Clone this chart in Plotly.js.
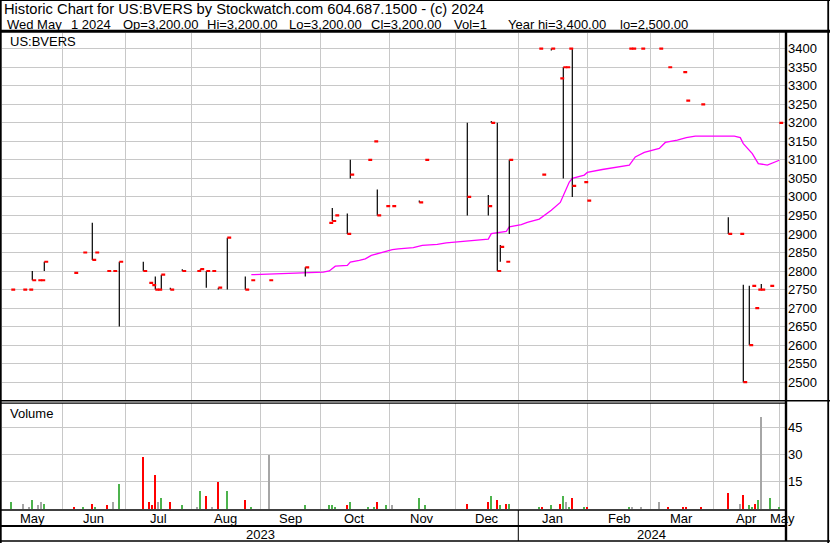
<!DOCTYPE html>
<html><head><meta charset="utf-8">
<script src="https://cdn.plot.ly/plotly-3.0.1.min.js"></script>
<style>html,body{margin:0;padding:0;background:#fff;overflow:hidden}</style>
</head><body><div id="chart" style="width:830px;height:543px"></div>
<script>
// ---------------- data ----------------
const dates = ['2023-05-09','2023-05-15','2023-05-17','2023-05-18','2023-05-22','2023-05-23','2023-05-24','2023-06-07','2023-06-12','2023-06-15',
'2023-06-16','2023-06-22','2023-06-26','2023-06-28','2023-07-10','2023-07-12','2023-07-13','2023-07-14','2023-07-17','2023-07-18',
'2023-07-21','2023-07-27','2023-08-03','2023-08-04','2023-08-08','2023-08-10','2023-08-14','2023-08-17','2023-08-25','2023-08-29',
'2023-09-06','2023-09-22','2023-10-04','2023-10-05','2023-10-06','2023-10-12','2023-10-13','2023-10-23','2023-10-25','2023-10-26',
'2023-10-31','2023-11-02','2023-11-15','2023-11-17','2023-12-07','2023-12-18','2023-12-19','2023-12-21','2023-12-22','2023-12-26',
'2023-12-27','2024-01-10','2024-01-11','2024-01-16','2024-01-19','2024-01-22','2024-01-23','2024-01-24','2024-01-25','2024-01-31',
'2024-02-01','2024-02-21','2024-02-22','2024-02-27','2024-03-06','2024-03-11','2024-03-18','2024-03-19','2024-03-26','2024-04-08',
'2024-04-12','2024-04-15','2024-04-17','2024-04-18','2024-04-19','2024-04-22','2024-04-23','2024-04-26','2024-05-01'];
const high = [2750,2750,2750,2800,2775,2775,2825,2795,2850,2930,
2850,2800,2800,2825,2825,2768,2762,2785,2750,2790,
2755,2805,2800,2805,2800,2800,2755,2890,2785,2775,
2775,2810,2930,2970,2950,2955,3100,3100,3150,3020,
2975,2975,2990,3100,3200,3005,3205,3200,2870,2825,
3100,3400,3060,3400,3320,3350,3350,3400,3400,3040,
2990,3400,3400,3400,3400,3350,3337,3260,3250,2945,
2900,2763,2760,2760,2700,2750,2765,2760,3200];
const low = [2750,2750,2750,2775,2775,2775,2800,2795,2850,2830,
2850,2800,2800,2650,2800,2768,2762,2750,2750,2750,
2750,2800,2800,2800,2755,2800,2750,2750,2750,2775,
2775,2785,2930,2935,2950,2900,3050,3100,3150,2950,
2975,2975,2985,3100,2950,2950,3200,2800,2825,2825,
2900,3400,3060,3395,3320,3050,3350,3400,3000,3040,
2990,3400,3400,3400,3400,3350,3337,3260,3250,2900,
2900,2500,2600,2760,2700,2750,2750,2760,3200];
const close = [2750,2750,2750,2775,2775,2775,2825,2795,2850,2830,
2850,2800,2800,2825,2800,2768,2762,2750,2750,2790,
2750,2800,2800,2805,2800,2800,2755,2890,2750,2775,
2775,2810,2930,2935,2950,2900,3060,3100,3150,2950,
2975,2975,2985,3100,3000,2975,3200,2800,2865,2825,
3100,3400,3060,3400,3320,3350,3350,3400,3030,3040,
2990,3400,3400,3400,3400,3350,3337,3260,3250,2900,
2900,2500,2600,2760,2700,2750,2750,2760,3200];
const volume = [4,3,1,5,2,4,3,1,1,3,
1,2,4,14,29,4,2,19,4,6,
4,2,1,10,7,1,15,10,5,1,
30,2,2,2,1,2,4,1,1,4,
2,2,6,2,3,4,7,5,2,3,
3,1,1,2,3,7,4,1,6,1,
1,1,1,1,4,1,1,1,1,9,
3,8,2,1,3,5,51,6,1];
const maDates = ['2023-08-29','2023-09-14','2023-09-26','2023-10-02','2023-10-04','2023-10-06','2023-10-12','2023-10-13','2023-10-18','2023-10-20',
'2023-10-24','2023-10-26','2023-10-31','2023-11-02','2023-11-06','2023-11-13','2023-11-16','2023-11-23','2023-11-28','2023-12-05',
'2023-12-11','2023-12-18','2023-12-19','2023-12-21','2023-12-26','2023-12-27','2024-01-02','2024-01-04','2024-01-10','2024-01-16',
'2024-01-19','2024-01-24','2024-01-25','2024-01-31','2024-02-01','2024-02-08','2024-02-16','2024-02-21','2024-02-23','2024-02-28',
'2024-03-06','2024-03-08','2024-03-14','2024-03-19','2024-03-22','2024-04-10','2024-04-12','2024-04-15','2024-04-18','2024-04-22',
'2024-04-25','2024-04-29','2024-05-01'];
const maValues = [2790,2793,2796,2797,2800,2813,2815,2824,2829,2833,
2842,2847,2854,2858,2860,2863,2869,2872,2876,2879,
2883,2886,2901,2904,2907,2919,2925,2931,2940,2964,
2985,3040,3050,3059,3066,3074,3081,3086,3108,3120,
3131,3147,3153,3160,3164,3164,3160,3144,3117,3090,
3086,3092,3099];
const priceTicks = [2500,2550,2600,2650,2700,2750,2800,2850,2900,2950,3000,3050,3100,3150,3200,3250,3300,3350,3400];
const volumeTicks = [15,30,45];
const monthStarts = ['2023-06-01','2023-07-01','2023-08-01','2023-09-01','2023-10-01','2023-11-01','2023-12-01','2024-01-01','2024-02-01','2024-03-01','2024-04-01','2024-05-01'];
const monthLabels = ['May','Jun','Jul','Aug','Sep','Oct','Nov','Dec','Jan','Feb','Mar','Apr','May'];
const yearLabels = ['2023','2024'];
const headerLine1 = 'Historic Chart for US:BVERS by Stockwatch.com 604.687.1500 - (c) 2024';
const headerLine2 = ['Wed May','1 2024','Op=3,200.00','Hi=3,200.00','Lo=3,200.00','Cl=3,200.00','Vol=1','Year hi=3,400.00','lo=2,500.00'];
const symbol = 'US:BVERS';

// ---------------- geometry helpers ----------------
const W = 830, H = 543;
const M = {l: 2, r: 45, t: 33, b: 34};
const PW = W - M.l - M.r, PH = H - M.t - M.b;
const fx = px => (px - M.l) / PW;
const fy = py => (H - M.b - py) / PH;
const FONT = "'Liberation Sans', Arial, sans-serif";

// weekday index (trading-calendar axis: weekends removed)
const BASE = Date.UTC(2023, 4, 1);
function ymd(s){ const [y,m,d] = s.split('-').map(Number); return Date.UTC(y, m-1, d); }
function wd(s){
  const days = Math.round((ymd(s) - BASE) / 864e5);
  return Math.floor(days / 7) * 5 + Math.min(days % 7, 5);
}
function boundary(s){
  const dow = new Date(ymd(s)).getUTCDay();
  return wd(s) - ((dow === 0 || dow === 6) ? 1 : 0);
}
const X0 = 2.9, X1 = 263.9;

const xi = dates.map(wd);
const grid = monthStarts.map(boundary);

// high-low bars
const hlX = [], hlY = [];
xi.forEach((x, i) => { if (high[i] > low[i]) { hlX.push(x, x, null); hlY.push(low[i], high[i], null); } });
// close ticks
const TICK = 1.3;
const cX = [], cY = [];
xi.forEach((x, i) => { cX.push(x, x + TICK, null); cY.push(close[i], close[i], null); });
// volume colours
const UP = '#4db34d', DOWN = '#ff0000', FLAT = '#a6a6a6';
const vCol = close.map((c, i) => i === 0 ? UP : (c > close[i-1] ? UP : (c < close[i-1] ? DOWN : FLAT)));

const traces = [
  {type:'scatter', mode:'lines', x: maDates.map(wd), y: maValues, line:{color:'#ff00ff', width:1.3}, xaxis:'x', yaxis:'y', hoverinfo:'skip'},
  {type:'scatter', mode:'lines', x: hlX, y: hlY, line:{color:'#000000', width:1.2}, xaxis:'x', yaxis:'y', hoverinfo:'skip', connectgaps:false},
  {type:'scatter', mode:'lines', x: cX, y: cY, line:{color:'#ff0000', width:2.2}, xaxis:'x', yaxis:'y', hoverinfo:'skip', connectgaps:false},
  {type:'bar', x: xi, y: volume, width: 0.7, marker:{color: vCol, line:{width:0}}, xaxis:'x2', yaxis:'y2', hoverinfo:'skip'}
];

const xCommon = {
  range:[X0, X1], tickmode:'array', tickvals: grid, showticklabels:false, ticks:'',
  showgrid:true, gridcolor:'#c8c8c8', gridwidth:1, zeroline:false, showline:false, fixedrange:true
};
const yFont = {family: FONT, size: 13, color:'#000'};

const ann = [];
const txt = (text, px, py, anchor, ref, size) => ann.push({
  text, x: ref ? px : fx(px), y: fy(py), xref: ref || 'paper', yref:'paper',
  xanchor: anchor || 'left', yanchor:'middle', showarrow:false, font:{family:FONT, size: size || 13, color:'#000'}, borderpad:0
});
txt(headerLine1, 3, 9, 'left', null, 14.7);
const h2x = [6, 70, 122, 206, 288, 370, 453, 507, 619];
headerLine2.forEach((t, i) => txt(t, h2x[i], 24.5));
txt(symbol, 8.5, 41);
txt('Volume', 8.5, 413);
const bounds = [X0, ...grid, X1];
monthLabels.forEach((m, i) => txt(m, (bounds[i] + bounds[i+1]) / 2, 518, 'center', 'x2'));
const janIdx = grid[monthStarts.indexOf('2024-01-01')];
txt(yearLabels[0], (X0 + janIdx) / 2, 534, 'center', 'x2');
txt(yearLabels[1], (janIdx + X1) / 2, 534, 'center', 'x2');

const shapes = [];
const hline = (py, px0, px1, w) => shapes.push({type:'line', xref:'paper', yref:'paper', x0: fx(px0), x1: fx(px1), y0: fy(py), y1: fy(py), line:{color:'#000', width:w}});
const vline = (px, py0, py1, w) => shapes.push({type:'line', xref:'paper', yref:'paper', x0: fx(px), x1: fx(px), y0: fy(py0), y1: fy(py1), line:{color:'#000', width:w}});
hline(0.5, 0, 830, 1);
hline(31.3, 0, 830, 3);
hline(400.7, 0, 830, 1.4);
hline(403.2, 0, 786, 1.2);
hline(510, 0, 786, 1.6);
hline(526, 0, 786, 2.2);
hline(541, 0, 830, 1.6);
vline(0.8, 0, 543, 1.8);
vline(828.2, 0, 543, 1.8);
vline(786, 31, 541, 2.4);
shapes.push({type:'line', xref:'x2', yref:'paper', x0: janIdx, x1: janIdx, y0: fy(510), y1: fy(541), line:{color:'#000', width:1}});

const layout = {
  width: W, height: H, margin: M, paper_bgcolor:'#fff', plot_bgcolor:'#fff',
  showlegend:false, hovermode:false, font:{family: FONT, size:13, color:'#000'},
  xaxis: Object.assign({anchor:'y', domain:[0,1]}, xCommon),
  xaxis2: Object.assign({anchor:'y2', domain:[0,1]}, xCommon),
  yaxis: {domain:[fy(400.5), 1], range:[2450.5, 3442.4], side:'right', anchor:'x', tickmode:'array', tickvals: priceTicks,
          ticks:'', ticklabelstandoff: 2, showgrid:true, gridcolor:'#c8c8c8', gridwidth:1, zeroline:false, showline:false, tickfont: yFont, fixedrange:true},
  yaxis2: {domain:[0, fy(403.2)], range:[0, 58.5], side:'right', anchor:'x2', tickmode:'array', tickvals: volumeTicks,
          ticks:'', ticklabelstandoff: 2, showgrid:true, gridcolor:'#c8c8c8', gridwidth:1, zeroline:false, showline:false, tickfont: yFont, fixedrange:true},
  annotations: ann, shapes: shapes, bargap: 0
};
Plotly.newPlot('chart', traces, layout, {displayModeBar:false, staticPlot:true});
</script></body></html>
